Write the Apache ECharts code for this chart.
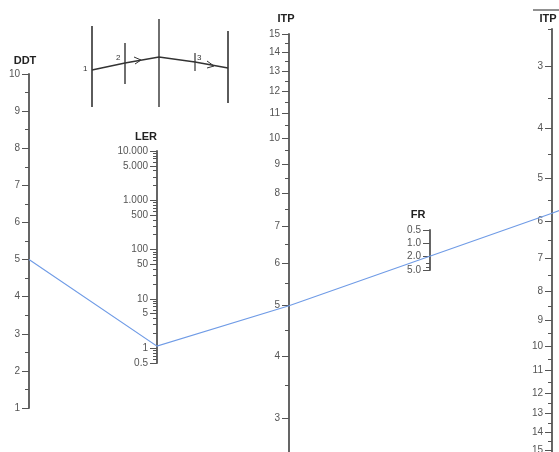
<!DOCTYPE html>
<html><head><meta charset="utf-8">
<script src="https://cdn.jsdelivr.net/npm/echarts@6/dist/echarts.min.js"></script>
<style>html,body{margin:0;padding:0;background:#fff}#c{width:559px;height:452px}</style>
</head><body><div id="c"></div>
<script>
// ---- data ----
const ddtMajor = [1,2,3,4,5,6,7,8,9,10];
const ddtLabels = ['1','2','3','4','5','6','7','8','9','10'];
const ddtMinor = [1.5,2.5,3.5,4.5,5.5,6.5,7.5,8.5,9.5];

const lerMajor = [0.5,1,5,10,50,100,500,1000,5000,10000];
const lerLabels = ['0.5','1','5','10','50','100','500','1.000','5.000','10.000'];
const lerMinor = [0.6,0.7,0.8,0.9,2,3,4,6,7,8,9,20,30,40,60,70,80,90,200,300,400,600,700,800,900,2000,3000,4000,6000,7000,8000,9000];

const itpMajor = [3,4,5,6,7,8,9,10,11,12,13,14,15];
const itpLabels = ['3','4','5','6','7','8','9','10','11','12','13','14','15'];
const itpMinor = [2.5,3.5,4.5,5.5,6.5,7.5,8.5,9.5,10.5,11.5,12.5,13.5,14.5];

const frMajor = [0.5,1,2,5];
const frLabels = ['0.5','1.0','2.0','5.0'];
const frMinor = [3,4];

const itpBarMajor = [3,4,5,6,7,8,9,10,11,12,13,14,15];
const itpBarLabels = ['3','4','5','6','7','8','9','10','11','12','13','14','15'];
const itpBarMinor = [2.5,3.5,4.5,5.5,6.5,7.5,8.5,9.5,10.5,11.5,12.5,13.5,14.5];

// example reading drawn across the nomogram
const pathAxes = ['DDT','LER','ITP','FR','ITPbar'];
const pathValues = [5, 1.1, 5, 2.0, 5.8];

// ---- scale transforms ----
const T = {
  DDT: v => v,
  LER: v => Math.log10(v),
  ITP: v => Math.log10(v + 1),
  FR: v => -1 / (v + 1),
  ITPbar: v => Math.log10(v + 1)
};

const AXIS_COLOR = '#555';
const LABEL_COLOR = '#555';
const FONT = 'Liberation Sans, Arial, sans-serif';

const axesDef = [
  {key:'DDT', name:'DDT', left:29, top:74, height:334, min:1, max:10, inverse:false,
   major:ddtMajor, labels:ddtLabels, minor:ddtMinor, nameGap:8, shift:8, nameLoc:'end'},
  {key:'LER', name:'LER', left:157, top:151, height:212, min:0.5, max:10000, inverse:false,
   major:lerMajor, labels:lerLabels, minor:lerMinor, nameGap:9, shift:22, nameLoc:'end'},
  {key:'ITP', name:'ITP', left:289, top:34, height:421, min:2.5, max:15, inverse:false,
   major:itpMajor, labels:itpLabels, minor:itpMinor, nameGap:10, shift:6, nameLoc:'end'},
  {key:'FR', name:'FR', left:430, top:230, height:40, min:0.5, max:5, inverse:true,
   major:frMajor, labels:frLabels, minor:frMinor, nameGap:10, shift:24, nameLoc:'start'},
  {key:'ITPbar', name:'ITP', left:552, top:29, height:430, min:2.5, max:15.5, inverse:true,
   major:itpBarMajor, labels:itpBarLabels, minor:itpBarMinor, nameGap:5, shift:8, nameLoc:'start'}
];

const grids = [], xAxes = [], yAxes = [];
axesDef.forEach((d, gi) => {
  const tf = T[d.key];
  grids.push({left: d.left, top: d.top, width: 1, height: d.height, containLabel: false,
    outerBoundsMode: 'none'});
  xAxes.push({type:'value', gridIndex: gi, min:0, max:1, show:false});
  const majorT = d.major.map(tf);
  yAxes.push({
    type:'value', gridIndex: gi, position:'left', inverse: d.inverse,
    min: tf(d.min), max: tf(d.max),
    name: d.name, nameLocation: d.nameLoc, nameGap: d.nameGap,
    nameTextStyle: {fontFamily: FONT, fontWeight:'bold', fontSize: 11, color:'#222',
      align:'center', padding:[0, d.shift, 0, 0]},
    axisLine: {show:true, lineStyle:{color: AXIS_COLOR, width: 1.8}},
    axisTick: {show:true, inside:false, length:7, customValues: majorT,
      lineStyle:{color: AXIS_COLOR, width: 1}},
    axisLabel: {show:true, customValues: majorT, margin:9, fontSize:10, fontFamily: FONT,
      color: LABEL_COLOR, showMinLabel:true, showMaxLabel:true, hideOverlap:false,
      formatter: val => {
        let best = 0, bd = Infinity;
        majorT.forEach((m, i) => { const dd = Math.abs(m - val); if (dd < bd) { bd = dd; best = i; } });
        return d.labels[best];
      }},
    splitLine: {show:false}
  });
  yAxes.push({
    type:'value', gridIndex: gi, position:'left', inverse: d.inverse,
    min: tf(d.min), max: tf(d.max),
    axisLine: {show:false},
    axisTick: {show:true, inside:false, length:4, customValues: d.minor.map(tf),
      lineStyle:{color: AXIS_COLOR, width: 1}},
    axisLabel: {show:false},
    splitLine: {show:false}
  });
});

// key diagram (explanatory sketch at top)
const K = '#333';
const keyGraphic = [
  {type:'line', shape:{x1:92,y1:26,x2:92,y2:107}, style:{stroke:K, lineWidth:1.6}},
  {type:'line', shape:{x1:125,y1:43,x2:125,y2:84}, style:{stroke:K, lineWidth:1.4}},
  {type:'line', shape:{x1:159,y1:19,x2:159,y2:107}, style:{stroke:K, lineWidth:1.4}},
  {type:'line', shape:{x1:195,y1:53,x2:195,y2:71}, style:{stroke:K, lineWidth:1.2}},
  {type:'line', shape:{x1:228,y1:31,x2:228,y2:103}, style:{stroke:K, lineWidth:1.6}},
  {type:'polyline', shape:{points:[[92,70],[125,63],[159,57],[195,62],[228,68]]}, style:{stroke:K, lineWidth:1.4, fill:null}},
  {type:'polyline', shape:{points:[[134,57],[141,60],[135,64]]}, style:{stroke:K, lineWidth:1, fill:null}},
  {type:'polyline', shape:{points:[[207,61],[214,66],[207,68]]}, style:{stroke:K, lineWidth:1, fill:null}},
  {type:'text', x:83, y:65, style:{text:'1', fontSize:8, fontFamily:FONT, fill:K}},
  {type:'text', x:116, y:54, style:{text:'2', fontSize:8, fontFamily:FONT, fill:K}},
  {type:'text', x:197, y:54, style:{text:'3', fontSize:8, fontFamily:FONT, fill:K}},
  {type:'line', shape:{x1:533,y1:10,x2:559,y2:10}, style:{stroke:'#222', lineWidth:1}}
];

const chart = echarts.init(document.getElementById('c'), null, {renderer:'canvas'});
chart.setOption({
  animation:false,
  backgroundColor:'#fff',
  grid: grids, xAxis: xAxes, yAxis: yAxes,
  series: [],
  graphic: keyGraphic
});

const pts = pathAxes.map((k, i) => {
  const gi = axesDef.findIndex(d => d.key === k);
  return chart.convertToPixel({gridIndex: gi}, [0, T[k](pathValues[i])]);
});
const a = pts[pts.length-2], b = pts[pts.length-1];
const ext = [b[0] + (b[0]-a[0]) * 0.06, b[1] + (b[1]-a[1]) * 0.06];
const linePts = [pts[0], pts[1], pts[2], pts[4], ext];
chart.setOption({
  graphic: keyGraphic.concat([{type:'polyline', z:50, shape:{points: linePts},
    style:{stroke:'#6f9be6', lineWidth:1.1, fill:null}}])
});
</script></body></html>
